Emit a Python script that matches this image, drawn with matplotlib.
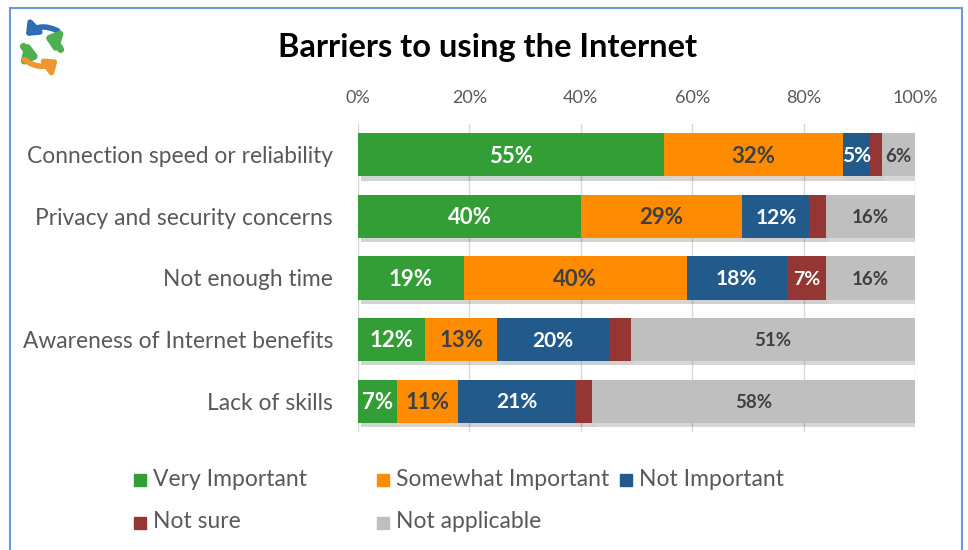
import matplotlib
matplotlib.use("Agg")
import matplotlib.pyplot as plt
import matplotlib.patheffects as pe
from matplotlib.patches import Rectangle, FancyArrowPatch
import numpy as np

plt.rcParams["font.family"] = ["Lato", "DejaVu Sans"]

categories = [
    "Connection speed or reliability",
    "Privacy and security concerns",
    "Not enough time",
    "Awareness of Internet benefits",
    "Lack of skills",
]
series = ["Very Important", "Somewhat Important", "Not Important", "Not sure", "Not applicable"]
very_important = [55, 40, 19, 12, 7]
somewhat_important = [32, 29, 40, 13, 11]
not_important = [5, 12, 18, 20, 21]
not_sure = [2, 3, 7, 4, 3]
not_applicable = [6, 16, 16, 51, 58]
ticks = [0, 20, 40, 60, 80, 100]

colors = ["#339E36", "#FF8C00", "#235A8C", "#943634", "#BFBFBF"]
label_colors = ["white", "#404040", "white", "white", "#404040"]
label_sizes = [16, 16, 15, 14, 13.5]

W, H = 968, 550
fig = plt.figure(figsize=(W / 100, H / 100), dpi=100)
ax = fig.add_axes([358 / W, 1 - 432 / H, (915 - 358) / W, (432 - 124) / H])

y = np.arange(len(categories))
left = np.zeros(len(categories))
shadow = [pe.SimplePatchShadow(offset=(2, -3), alpha=0.2), pe.Normal()]
for vals, name, col, lc, fs in zip(
    [very_important, somewhat_important, not_important, not_sure, not_applicable],
    series, colors, label_colors, label_sizes,
):
    bars = ax.barh(y, vals, left=left, height=0.7, color=col, zorder=3)
    for b in bars:
        b.set_path_effects(shadow)
    for yi, v, l in zip(y, vals, left):
        if v >= 5:
            ax.text(l + v / 2, yi + 0.02, f"{v}%", ha="center", va="center",
                    color=lc, fontsize=fs, fontweight="bold", zorder=4)
    left += np.array(vals)

ax.set_xlim(0, 100)
ax.set_ylim(len(categories) - 0.5, -0.5)
ax.set_xticks(ticks)
ax.set_xticklabels([f"{t}%" for t in ticks], color="#595959", fontsize=13)
ax.xaxis.tick_top()
ax.tick_params(axis="x", length=0, pad=13)
ax.set_yticks(y)
ax.set_yticklabels(categories, color="#595959", fontsize=16.4)
ax.tick_params(axis="y", length=0, pad=18)
ax.grid(axis="x", color="#D9D9D9", linewidth=1, zorder=0)
for s in ax.spines.values():
    s.set_visible(False)

fig.text(488 / W, 1 - 48 / H, "Barriers to using the Internet", ha="center", va="center",
         fontsize=23.5, fontweight="bold", color="black")

# legend laid out like Excel: 3 equal columns, 2 rows
for i, (name, col) in enumerate(zip(series, colors)):
    cx = 134 + 243 * (i % 3)
    cy = 480 + 43 * (i // 3)
    fig.patches.append(Rectangle((cx / W, 1 - (cy + 6) / H), 12 / W, 12 / H,
                                 transform=fig.transFigure, color=col))
    fig.text((cx + 19) / W, 1 - (cy - 1) / H, name, ha="left", va="center",
             fontsize=16.5, color="#595959")

# outer frame
fig.patches.append(Rectangle((10 / W, -0.05), 952 / W, 1.05 - 8 / H, transform=fig.transFigure,
                             fill=False, edgecolor="#6A9BD8", linewidth=1.5))

# small recycle-style logo
def farrow(p1, p2, c, rad, lw=4):
    a = FancyArrowPatch((p1[0] / W, 1 - p1[1] / H), (p2[0] / W, 1 - p2[1] / H),
                        transform=fig.transFigure, connectionstyle=f"arc3,rad={rad}",
                        arrowstyle="-|>,head_length=6,head_width=5", color=c, linewidth=lw)
    fig.patches.append(a)

farrow((60, 32), (24, 38), "#2E6DB4", 0.4)
farrow((22, 44), (42, 58), "#4CAF50", 0.25, 5)
farrow((62, 52), (42, 36), "#4CAF50", 0.25, 5)
farrow((22, 58), (60, 58), "#F0962E", 0.4)

fig.savefig("out.png", dpi=100)
